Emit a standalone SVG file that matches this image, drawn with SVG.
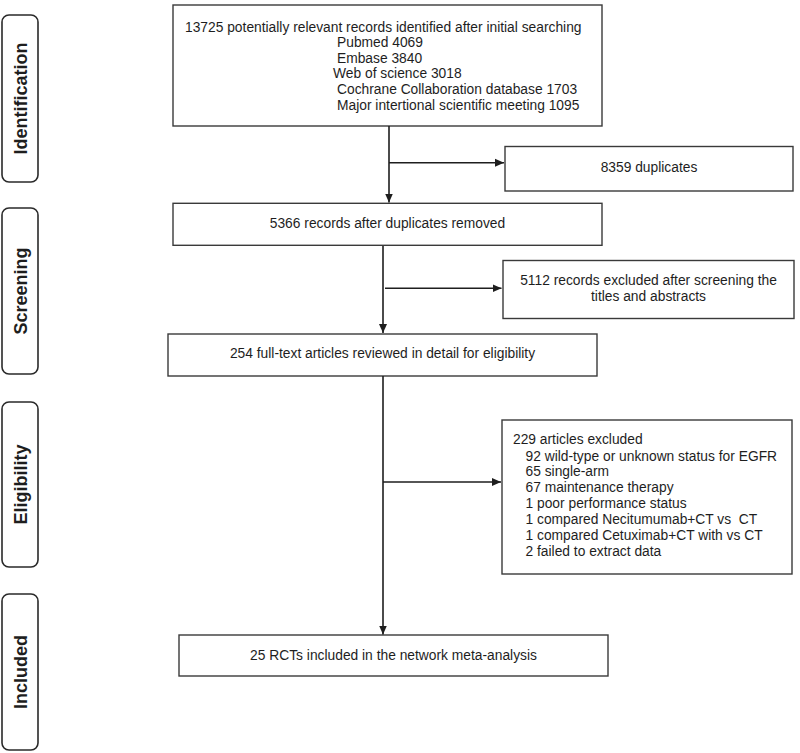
<svg xmlns="http://www.w3.org/2000/svg" width="800" height="753" viewBox="0 0 800 753">
<style>
.bg{fill:#ffffff}
.box{fill:#ffffff;stroke:#3a3a3a;stroke-width:1.4}
.side{fill:#ffffff;stroke:#2a2a2a;stroke-width:1.6}
.t{font-family:"Liberation Sans",Arial,sans-serif;font-size:13.8px;fill:#1e1e1e;white-space:pre}
.c{text-anchor:middle}
.st{font-family:"Liberation Sans",Arial,sans-serif;font-size:18px;font-weight:bold;fill:#1e1e1e;text-anchor:middle}
.ln{fill:none;stroke:#1e1e1e;stroke-width:1.6}
</style>
<defs>
<marker id="ah" markerUnits="userSpaceOnUse" markerWidth="10" markerHeight="10" viewBox="0 0 10 10" refX="9" refY="5" orient="auto">
<path d="M0,1 L9,5 L0,9 Z" fill="#1e1e1e"/>
</marker>
</defs>
<rect class="bg" x="0" y="0" width="800" height="753"/>

<g id="stage-identification">
<rect class="side" x="2" y="15" width="36" height="167" rx="7"/>
<text class="st" transform="translate(26.5,98.5) rotate(-90)">Identification</text>
</g>
<g id="stage-screening">
<rect class="side" x="2" y="208" width="36" height="166" rx="7"/>
<text class="st" transform="translate(26.5,291) rotate(-90)">Screening</text>
</g>
<g id="stage-eligibility">
<rect class="side" x="2" y="402" width="36" height="165" rx="7"/>
<text class="st" transform="translate(26.5,484.5) rotate(-90)">Eligibility</text>
</g>
<g id="stage-included">
<rect class="side" x="2" y="594" width="36" height="156" rx="7"/>
<text class="st" transform="translate(26.5,672) rotate(-90)">Included</text>
</g>

<g id="node-identified">
<rect class="box" x="173" y="5" width="429" height="121"/>
<text class="t" x="185" y="31.7">13725 potentially relevant records identified after initial searching</text>
<text class="t" x="337" y="47">Pubmed 4069</text>
<text class="t" x="337" y="62.7">Embase 3840</text>
<text class="t" x="333" y="78.3">Web of science 3018</text>
<text class="t" x="337" y="94.3">Cochrane Collaboration database 1703</text>
<text class="t" x="337" y="110">Major intertional scientific meeting 1095</text>
</g>

<g id="node-duplicates">
<rect class="box" x="505" y="146.5" width="288" height="44.5"/>
<text class="t c" x="649" y="171.5">8359 duplicates</text>
</g>

<g id="node-after-dup">
<rect class="box" x="173" y="203.3" width="429" height="42"/>
<text class="t c" x="387.5" y="228">5366 records after duplicates removed</text>
</g>

<g id="node-excluded-screen">
<rect class="box" x="503" y="260.5" width="291" height="58"/>
<text class="t c" x="648.5" y="285">5112 records excluded after screening the</text>
<text class="t c" x="648.5" y="300.7">titles and abstracts</text>
</g>

<g id="node-fulltext">
<rect class="box" x="168" y="334" width="429" height="42"/>
<text class="t c" x="382.5" y="358.3">254 full-text articles reviewed in detail for eligibility</text>
</g>

<g id="node-excluded-elig">
<rect class="box" x="502" y="420" width="290" height="154"/>
<text class="t" x="513" y="444.3">229 articles excluded</text>
<text class="t" x="525.5" y="460.5">92 wild-type or unknown status for EGFR</text>
<text class="t" x="525.5" y="476">65 single-arm</text>
<text class="t" x="525.5" y="492">67 maintenance therapy</text>
<text class="t" x="525.5" y="508">1 poor performance status</text>
<text class="t" x="525.5" y="524">1 compared Necitumumab+CT vs  CT</text>
<text class="t" x="525.5" y="539.7">1 compared Cetuximab+CT with vs CT</text>
<text class="t" x="525.5" y="555.7">2 failed to extract data</text>
</g>

<g id="node-included">
<rect class="box" x="179" y="635" width="429" height="41"/>
<text class="t c" x="393.5" y="660">25 RCTs included in the network meta-analysis</text>
</g>

<g id="connectors">
<line class="ln" x1="389" y1="126" x2="389" y2="202.5" marker-end="url(#ah)"/>
<line class="ln" x1="389" y1="162.7" x2="504" y2="162.7" marker-end="url(#ah)"/>
<line class="ln" x1="383" y1="246" x2="383" y2="333" marker-end="url(#ah)"/>
<line class="ln" x1="385" y1="288.3" x2="501.5" y2="288.3" marker-end="url(#ah)"/>
<line class="ln" x1="383" y1="376" x2="383" y2="634.5" marker-end="url(#ah)"/>
<line class="ln" x1="383" y1="482" x2="501" y2="482" marker-end="url(#ah)"/>
</g>
</svg>
